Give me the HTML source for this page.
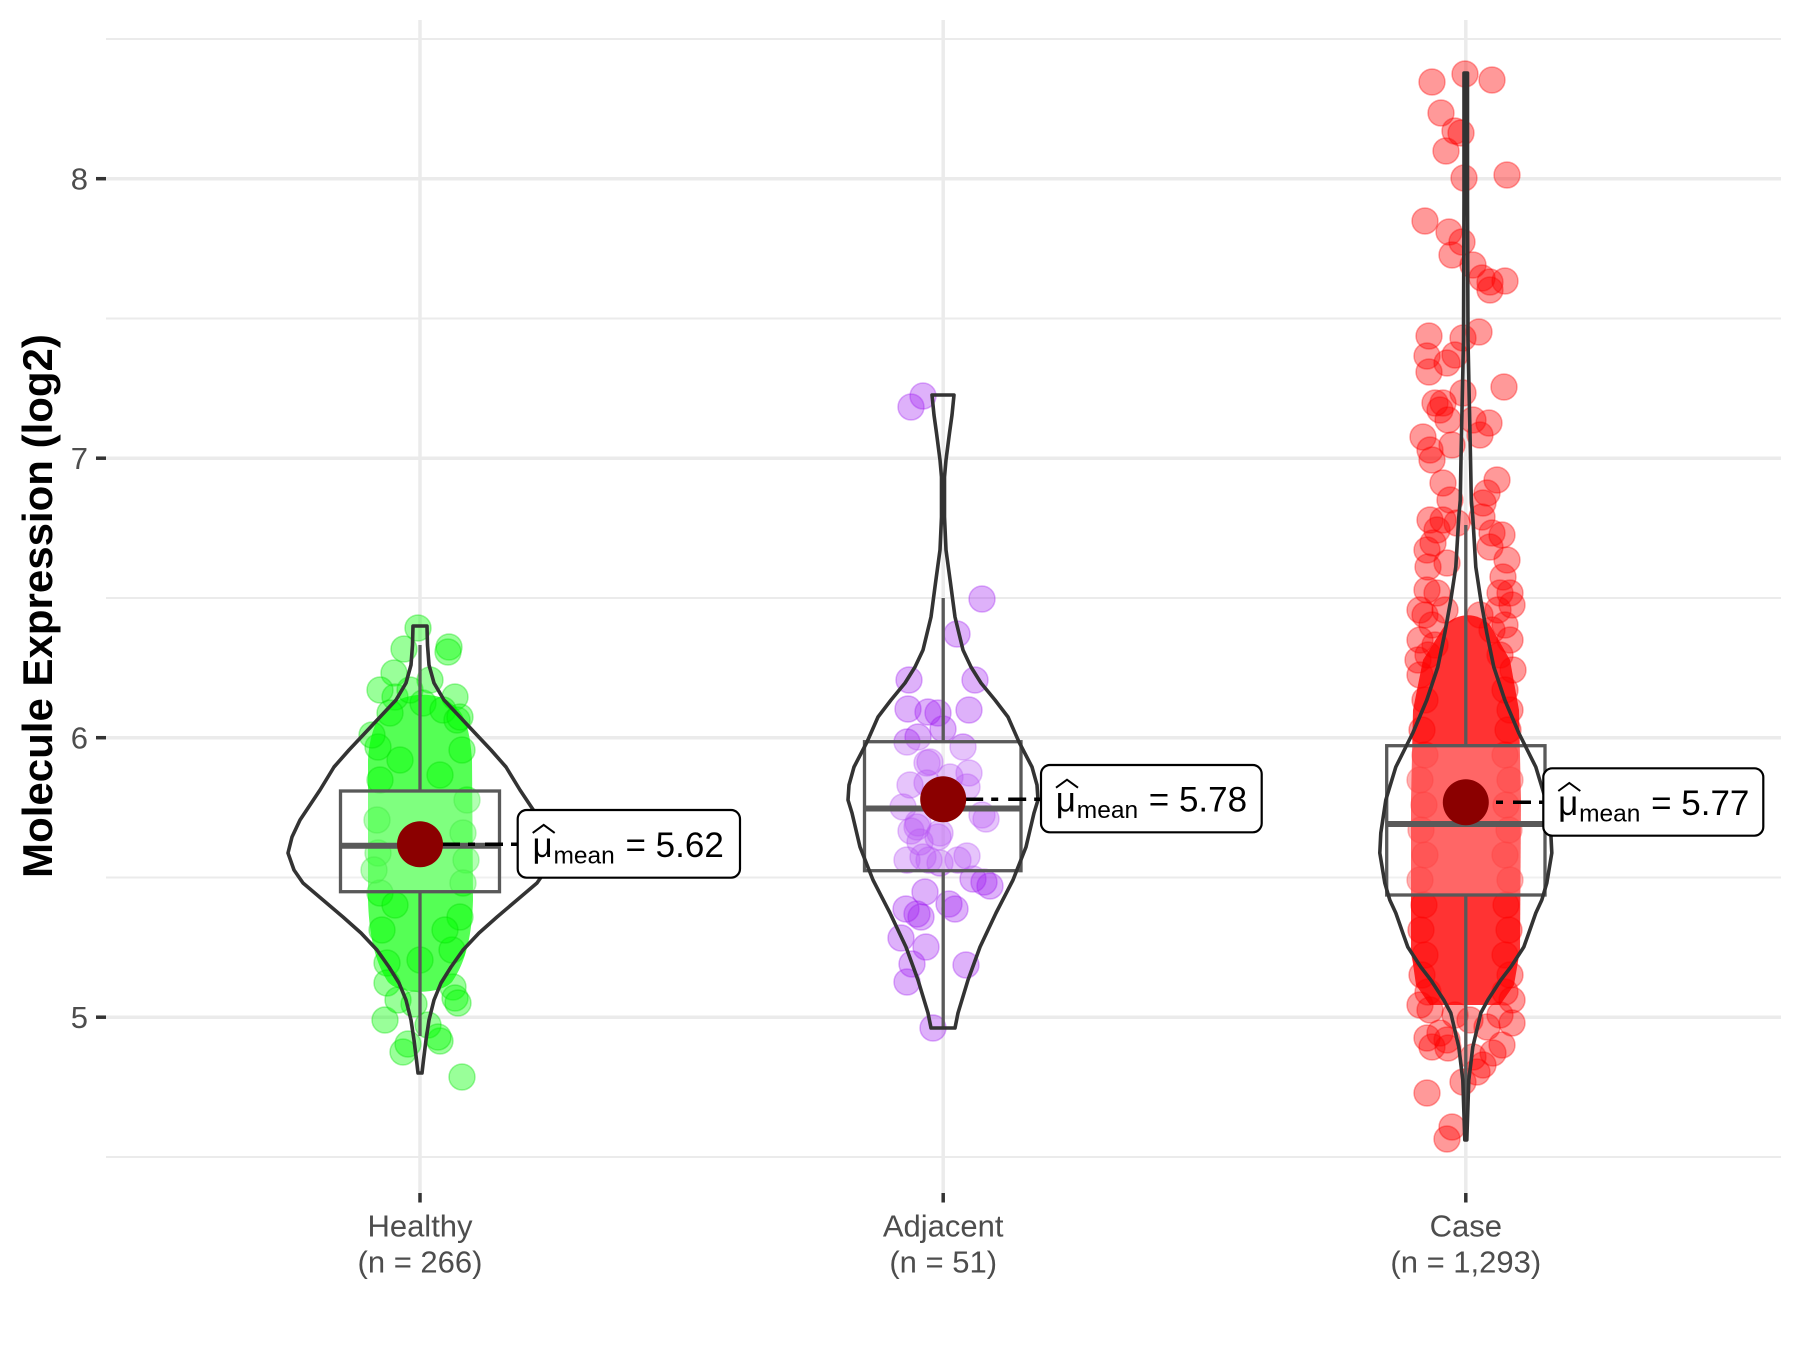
<!DOCTYPE html>
<html>
<head>
<meta charset="utf-8">
<style>
  html, body { margin: 0; padding: 0; background: #ffffff; }
  svg { display: block; }
</style>
</head>
<body>
<svg width="1800" height="1350" viewBox="0 0 1800 1350" xmlns="http://www.w3.org/2000/svg" font-family="'Liberation Sans', Arial, sans-serif">
  <rect x="0" y="0" width="1800" height="1350" fill="#ffffff"/>

  <g stroke="#EBEBEB" stroke-width="2">
    <line x1="106" y1="39" x2="1781" y2="39"/>
    <line x1="106" y1="318.5" x2="1781" y2="318.5"/>
    <line x1="106" y1="598" x2="1781" y2="598"/>
    <line x1="106" y1="877.5" x2="1781" y2="877.5"/>
    <line x1="106" y1="1157" x2="1781" y2="1157"/>
  </g>
  <g stroke="#EBEBEB" stroke-width="3.5">
    <line x1="106" y1="178.7" x2="1781" y2="178.7"/>
    <line x1="106" y1="458.2" x2="1781" y2="458.2"/>
    <line x1="106" y1="737.7" x2="1781" y2="737.7"/>
    <line x1="106" y1="1017.2" x2="1781" y2="1017.2"/>
    <line x1="420" y1="20" x2="420" y2="1193"/>
    <line x1="943.2" y1="20" x2="943.2" y2="1193"/>
    <line x1="1465.8" y1="20" x2="1465.8" y2="1193"/>
  </g>

  <g stroke="#333333" stroke-width="3.5">
    <line x1="96" y1="178.7" x2="106" y2="178.7"/>
    <line x1="96" y1="458.2" x2="106" y2="458.2"/>
    <line x1="96" y1="737.7" x2="106" y2="737.7"/>
    <line x1="96" y1="1017.2" x2="106" y2="1017.2"/>
    <line x1="420" y1="1193" x2="420" y2="1202.5"/>
    <line x1="943.2" y1="1193" x2="943.2" y2="1202.5"/>
    <line x1="1465.8" y1="1193" x2="1465.8" y2="1202.5"/>
  </g>

  <g font-size="31" fill="#4D4D4D" text-anchor="end">
    <text x="88" y="189.7">8</text>
    <text x="88" y="469.2">7</text>
    <text x="88" y="748.7">6</text>
    <text x="88" y="1028.2">5</text>
  </g>

  <text transform="translate(52,606) rotate(-90)" text-anchor="middle" font-size="42" font-weight="bold" fill="#000000">Molecule Expression (log2)</text>

  <g font-size="31" fill="#4D4D4D" text-anchor="middle">
    <text x="420" y="1236.5">Healthy</text>
    <text x="420" y="1272.5">(n = 266)</text>
    <text x="943.2" y="1236.5">Adjacent</text>
    <text x="943.2" y="1272.5">(n = 51)</text>
    <text x="1465.8" y="1236.5">Case</text>
    <text x="1465.8" y="1272.5">(n = 1,293)</text>
  </g>

  <!-- HEALTHY POINTS -->
  <path d="M395,702 C410,692 440,692 452,704 C465,712 470,730 472,760 L473,900 C472,935 466,962 452,982 C440,995 400,995 388,982 C375,962 369,935 368,900 L368,760 C370,730 378,712 395,702 Z" fill="#55FF55"/>
  <g fill="#00FF00" fill-opacity="0.4" stroke="#00DD00" stroke-opacity="0.35" stroke-width="1.5">
    <circle cx="418" cy="628" r="13"/><circle cx="404" cy="649" r="13"/><circle cx="449" cy="647" r="13"/>
    <circle cx="448" cy="652" r="13"/><circle cx="394" cy="673" r="13"/><circle cx="395" cy="697" r="13"/>
    <circle cx="455" cy="697" r="13"/><circle cx="423" cy="703" r="13"/><circle cx="390" cy="713" r="13"/>
    <circle cx="443" cy="710" r="13"/><circle cx="457" cy="720" r="13"/><circle cx="380" cy="690" r="13"/>
    <circle cx="430" cy="680" r="13"/><circle cx="410" cy="690" r="13"/>
    <circle cx="460" cy="717" r="13"/><circle cx="462" cy="750" r="13"/><circle cx="467" cy="800" r="13"/>
    <circle cx="463" cy="833" r="13"/><circle cx="466" cy="860" r="13"/><circle cx="463" cy="883" r="13"/>
    <circle cx="460" cy="917" r="13"/><circle cx="452" cy="950" r="13"/><circle cx="453" cy="987" r="13"/>
    <circle cx="455" cy="998" r="13"/>
    <circle cx="378" cy="747" r="13"/><circle cx="380" cy="780" r="13"/><circle cx="377" cy="820" r="13"/>
    <circle cx="378" cy="853" r="13"/><circle cx="380" cy="893" r="13"/><circle cx="382" cy="930" r="13"/>
    <circle cx="387" cy="963" r="13"/><circle cx="387" cy="983" r="13"/><circle cx="372" cy="735" r="13"/>
    <circle cx="374" cy="870" r="13"/>
    <circle cx="385" cy="1020" r="13"/><circle cx="403" cy="1052" r="13"/><circle cx="408" cy="1044" r="13"/>
    <circle cx="440" cy="1041" r="13"/><circle cx="462" cy="1077" r="13"/><circle cx="458" cy="1003" r="13"/>
    <circle cx="428" cy="1025" r="13"/><circle cx="414" cy="1004" r="13"/><circle cx="438" cy="1037" r="13"/>
    <circle cx="398" cy="1000" r="13"/>
    <circle cx="400" cy="760" r="13"/><circle cx="440" cy="775" r="13"/><circle cx="395" cy="905" r="13"/>
    <circle cx="445" cy="930" r="13"/><circle cx="420" cy="960" r="13"/>
  </g>

  <!-- ADJACENT POINTS -->
  <g fill="#A020F0" fill-opacity="0.35" stroke="#A020F0" stroke-opacity="0.35" stroke-width="1.5">
    <circle cx="911" cy="407" r="13"/><circle cx="923" cy="396" r="13"/><circle cx="982" cy="599" r="13"/>
    <circle cx="957" cy="634" r="13"/><circle cx="909" cy="680" r="13"/><circle cx="975" cy="680" r="13"/>
    <circle cx="908" cy="709" r="13"/><circle cx="928" cy="712" r="13"/><circle cx="969" cy="710" r="13"/>
    <circle cx="943" cy="729" r="13"/><circle cx="918" cy="737" r="13"/><circle cx="907" cy="742" r="13"/>
    <circle cx="963" cy="747" r="13"/><circle cx="927" cy="763" r="13"/><circle cx="950" cy="777" r="13"/>
    <circle cx="910" cy="785" r="13"/><circle cx="967" cy="787" r="13"/><circle cx="927" cy="783" r="13"/>
    <circle cx="903" cy="807" r="13"/><circle cx="982" cy="815" r="13"/><circle cx="918" cy="823" r="13"/>
    <circle cx="940" cy="833" r="13"/><circle cx="920" cy="842" r="13"/><circle cx="917" cy="827" r="13"/>
    <circle cx="938" cy="837" r="13"/><circle cx="907" cy="860" r="13"/><circle cx="923" cy="857" r="13"/>
    <circle cx="940" cy="863" r="13"/><circle cx="967" cy="856" r="13"/><circle cx="973" cy="879" r="13"/>
    <circle cx="984" cy="882" r="13"/><circle cx="925" cy="892" r="13"/><circle cx="949" cy="904" r="13"/>
    <circle cx="906" cy="909" r="13"/><circle cx="917" cy="914" r="13"/><circle cx="901" cy="938" r="13"/>
    <circle cx="926" cy="947" r="13"/><circle cx="912" cy="964" r="13"/><circle cx="966" cy="965" r="13"/>
    <circle cx="907" cy="982" r="13"/><circle cx="933" cy="1028" r="13"/><circle cx="938" cy="713" r="13"/>
    <circle cx="930" cy="762" r="13"/><circle cx="969" cy="773" r="13"/><circle cx="986" cy="819" r="13"/>
    <circle cx="911" cy="831" r="13"/><circle cx="929" cy="860" r="13"/><circle cx="958" cy="860" r="13"/>
    <circle cx="990" cy="886" r="13"/><circle cx="955" cy="909" r="13"/><circle cx="921" cy="917" r="13"/>
  </g>

  <!-- CASE POINTS -->
  <path d="M1445,625 C1458,612 1478,612 1490,625 L1510,660 L1519,710 L1521,800 L1520,950 L1514,985 L1500,1005 L1430,1005 L1416,985 L1411,950 L1411,800 L1413,710 L1423,660 Z" fill="#FF3333"/>
  <g fill="#FF0000" fill-opacity="0.4" stroke="#FF0000" stroke-opacity="0.35" stroke-width="1.5">
    <circle cx="1432" cy="82" r="13"/><circle cx="1465" cy="74" r="13"/><circle cx="1492" cy="80" r="13"/>
    <circle cx="1441" cy="113" r="13"/><circle cx="1455" cy="131" r="13"/><circle cx="1461" cy="133" r="13"/>
    <circle cx="1446" cy="151" r="13"/><circle cx="1464" cy="178" r="13"/><circle cx="1507" cy="175" r="13"/>
    <circle cx="1425" cy="221" r="13"/><circle cx="1449" cy="232" r="13"/><circle cx="1462" cy="242" r="13"/>
    <circle cx="1452" cy="255" r="13"/><circle cx="1473" cy="265" r="13"/><circle cx="1482" cy="278" r="13"/>
    <circle cx="1490" cy="282" r="13"/><circle cx="1505" cy="281" r="13"/><circle cx="1490" cy="290" r="13"/>
    <circle cx="1429" cy="336" r="13"/><circle cx="1427" cy="356" r="13"/><circle cx="1429" cy="372" r="13"/>
    <circle cx="1447" cy="363" r="13"/><circle cx="1455" cy="355" r="13"/><circle cx="1463" cy="338" r="13"/>
    <circle cx="1479" cy="332" r="13"/><circle cx="1504" cy="387" r="13"/><circle cx="1435" cy="403" r="13"/>
    <circle cx="1443" cy="403" r="13"/><circle cx="1463" cy="393" r="13"/><circle cx="1440" cy="410" r="13"/>
    <circle cx="1448" cy="420" r="13"/><circle cx="1473" cy="420" r="13"/><circle cx="1489" cy="423" r="13"/>
    <circle cx="1480" cy="435" r="13"/><circle cx="1423" cy="437" r="13"/><circle cx="1430" cy="450" r="13"/>
    <circle cx="1432" cy="460" r="13"/><circle cx="1452" cy="445" r="13"/><circle cx="1443" cy="483" r="13"/>
    <circle cx="1497" cy="480" r="13"/><circle cx="1430" cy="520" r="13"/><circle cx="1437" cy="530" r="13"/>
    <circle cx="1487" cy="493" r="13"/><circle cx="1483" cy="503" r="13"/><circle cx="1457" cy="523" r="13"/>
    <circle cx="1482" cy="517" r="13"/><circle cx="1492" cy="533" r="13"/><circle cx="1502" cy="535" r="13"/>
    <circle cx="1427" cy="550" r="13"/><circle cx="1443" cy="520" r="13"/><circle cx="1450" cy="500" r="13"/>
    <circle cx="1433" cy="543" r="13"/><circle cx="1490" cy="547" r="13"/><circle cx="1428" cy="567" r="13"/>
    <circle cx="1447" cy="563" r="13"/><circle cx="1507" cy="560" r="13"/><circle cx="1503" cy="577" r="13"/>
    <circle cx="1427" cy="590" r="13"/><circle cx="1420" cy="610" r="13"/><circle cx="1437" cy="593" r="13"/>
    <circle cx="1500" cy="593" r="13"/><circle cx="1510" cy="593" r="13"/><circle cx="1425" cy="615" r="13"/>
    <circle cx="1432" cy="625" r="13"/><circle cx="1420" cy="640" r="13"/><circle cx="1428" cy="655" r="13"/>
    <circle cx="1435" cy="645" r="13"/><circle cx="1498" cy="610" r="13"/><circle cx="1505" cy="625" r="13"/>
    <circle cx="1510" cy="640" r="13"/><circle cx="1500" cy="655" r="13"/><circle cx="1492" cy="630" r="13"/>
    <circle cx="1512" cy="605" r="13"/><circle cx="1420" cy="675" r="13"/><circle cx="1505" cy="690" r="13"/>
    <circle cx="1425" cy="700" r="13"/><circle cx="1510" cy="710" r="13"/><circle cx="1418" cy="660" r="13"/>
    <circle cx="1513" cy="670" r="13"/><circle cx="1445" cy="610" r="13"/><circle cx="1480" cy="615" r="13"/>
    <circle cx="1422" cy="730" r="13"/><circle cx="1425" cy="755" r="13"/><circle cx="1420" cy="780" r="13"/>
    <circle cx="1424" cy="805" r="13"/><circle cx="1421" cy="830" r="13"/><circle cx="1425" cy="855" r="13"/>
    <circle cx="1420" cy="880" r="13"/><circle cx="1424" cy="905" r="13"/><circle cx="1421" cy="930" r="13"/>
    <circle cx="1425" cy="955" r="13"/><circle cx="1422" cy="975" r="13"/><circle cx="1428" cy="992" r="13"/>
    <circle cx="1508" cy="730" r="13"/><circle cx="1505" cy="755" r="13"/><circle cx="1510" cy="780" r="13"/>
    <circle cx="1506" cy="805" r="13"/><circle cx="1509" cy="830" r="13"/><circle cx="1505" cy="855" r="13"/>
    <circle cx="1510" cy="880" r="13"/><circle cx="1506" cy="905" r="13"/><circle cx="1509" cy="930" r="13"/>
    <circle cx="1505" cy="955" r="13"/><circle cx="1510" cy="975" r="13"/><circle cx="1505" cy="992" r="13"/>
    <circle cx="1427" cy="1038" r="13"/><circle cx="1432" cy="1047" r="13"/><circle cx="1440" cy="1033" r="13"/>
    <circle cx="1447" cy="1040" r="13"/><circle cx="1470" cy="1020" r="13"/><circle cx="1487" cy="1027" r="13"/>
    <circle cx="1502" cy="1045" r="13"/><circle cx="1493" cy="1053" r="13"/><circle cx="1483" cy="1065" r="13"/>
    <circle cx="1477" cy="1072" r="13"/><circle cx="1463" cy="1082" r="13"/><circle cx="1427" cy="1093" r="13"/>
    <circle cx="1452" cy="1127" r="13"/><circle cx="1447" cy="1139" r="13"/><circle cx="1512" cy="1000" r="13"/>
    <circle cx="1512" cy="1023" r="13"/><circle cx="1430" cy="1010" r="13"/><circle cx="1448" cy="1048" r="13"/>
    <circle cx="1473" cy="1057" r="13"/><circle cx="1455" cy="1015" r="13"/><circle cx="1500" cy="1015" r="13"/>
    <circle cx="1420" cy="1005" r="13"/>
  </g>

  <!-- BOXPLOTS -->
  <g stroke="#595959" stroke-width="3.3" fill="none">
    <line x1="420" y1="645" x2="420" y2="791"/>
    <line x1="420" y1="891.7" x2="420" y2="1036"/>
    <rect x="340.5" y="791" width="159" height="100.7" fill="#ffffff" fill-opacity="0.25"/>
    <line x1="340.5" y1="845.7" x2="499.5" y2="845.7" stroke-width="6"/>
    <line x1="943.2" y1="598" x2="943.2" y2="741.7"/>
    <line x1="943.2" y1="870.7" x2="943.2" y2="1028"/>
    <rect x="864.5" y="741.7" width="156.5" height="129" fill="#ffffff" fill-opacity="0.25"/>
    <line x1="864.5" y1="808.5" x2="1021" y2="808.5" stroke-width="6"/>
    <line x1="1465.8" y1="525" x2="1465.8" y2="745.7"/>
    <line x1="1465.8" y1="895" x2="1465.8" y2="1119"/>
    <rect x="1386.7" y="745.7" width="158.3" height="149.3" fill="#ffffff" fill-opacity="0.25"/>
    <line x1="1386.7" y1="824" x2="1545" y2="824" stroke-width="6"/>
  </g>

  <!-- VIOLINS -->
  <g stroke="#333333" stroke-width="3.6" fill="none" stroke-linejoin="round">
    <path d="M413,626 L427,626 L427.5,645 L429,665 L434,683 L444,700 L460,717 L475,733 L491,750 L506,767 L520,790 L530,805 L540,820 L548,837 L552,853 L546,870 L537,883 L517,900 L497,917 L479,933 L463,950 L451,967 L441,983 L434,1000 L429,1020 L426,1040 L423.5,1060 L422,1073 L418,1073 L416.5,1060 L414,1040 L411,1020 L406,1000 L399,983 L389,967 L377,950 L361,933 L343,917 L323,900 L303,883 L294,870 L288,853 L292,837 L300,820 L310,805 L320,790 L334,767 L349,750 L365,733 L380,717 L396,700 L406,683 L411,665 L412.5,645 Z"/>
    <path d="M932,395 L954,395 L952,415 L949.5,433 L946,460 L944.5,477 L944.5,517 L946,550 L950.5,583 L955,617 L963,650 L971,667 L981,683 L995,700 L1008,717 L1019,742 L1032,767 L1037,785 L1038,800 L1034,813 L1030,830 L1026,847 L1013,880 L996,913 L980,947 L968,980 L958,1013 L955,1028 L931,1028 L928,1013 L918,980 L906,947 L890,913 L873,880 L860,847 L856,830 L852,813 L848,800 L849,785 L854,767 L867,742 L878,717 L891,700 L905,683 L915,667 L923,650 L931,617 L935.5,583 L940,550 L941.5,517 L941.5,477 L940,460 L936.5,433 L934,415 Z"/>
    <path d="M1464,73 L1467.5,73 L1467.5,200 L1468,340 L1470.5,458 L1471.3,500 L1472.8,517 L1475.8,567 L1480.8,600 L1486.8,633 L1493.8,667 L1504.8,700 L1518.8,733 L1535.8,767 L1545.8,800 L1550.8,833 L1551.8,853 L1546.8,883 L1541.8,900 L1535.8,913 L1528.8,933 L1523.8,947 L1510.8,967 L1500.8,980 L1487.8,1000 L1480.8,1013 L1472.8,1047 L1468.8,1080 L1466.8,1140 L1464.8,1140 L1462.8,1080 L1458.8,1047 L1450.8,1013 L1443.8,1000 L1430.8,980 L1420.8,967 L1407.8,947 L1402.8,933 L1395.8,913 L1389.8,900 L1384.8,883 L1379.8,853 L1380.8,833 L1385.8,800 L1395.8,767 L1412.8,733 L1426.8,700 L1437.8,667 L1444.8,633 L1450.8,600 L1455.8,567 L1458.8,517 L1460.3,500 L1461,458 L1463.5,340 L1464,200 Z"/>
  </g>

  <!-- MEAN LINES -->
  <g stroke="#000000" stroke-width="3.5" stroke-dasharray="7 10 18 8" fill="none">
    <line x1="425" y1="844.3" x2="517.7" y2="844.3"/>
    <line x1="948.2" y1="799.2" x2="1041" y2="799.2"/>
    <line x1="1470" y1="802.3" x2="1543.3" y2="802.3" stroke-dashoffset="17"/>
  </g>

  <g fill="#8B0000">
    <circle cx="420" cy="844.3" r="23"/>
    <circle cx="943.2" cy="799.2" r="23"/>
    <circle cx="1465.8" cy="802.3" r="23"/>
  </g>

  <!-- LABELS -->
  <rect x="517.7" y="810" width="222.3" height="67.7" rx="9" ry="9" fill="#ffffff" stroke="#000000" stroke-width="2.2"/>
  <polyline points="532.7,832.9 543.7,824.9 554.7,832.9" fill="none" stroke="#000000" stroke-width="2"/>
  <text x="532.5" y="856.9" font-size="35" fill="#000000">μ</text>
  <text x="553.5" y="863.4" font-size="24.5" fill="#000000">mean</text>
  <text x="625.5" y="856.9" font-size="35" fill="#000000">= 5.62</text>

  <rect x="1041" y="765" width="220.7" height="67.3" rx="9" ry="9" fill="#ffffff" stroke="#000000" stroke-width="2.2"/>
  <polyline points="1056,787.7 1067,779.7 1078,787.7" fill="none" stroke="#000000" stroke-width="2"/>
  <text x="1055.8" y="811.7" font-size="35" fill="#000000">μ</text>
  <text x="1076.8" y="818.2" font-size="24.5" fill="#000000">mean</text>
  <text x="1148.8" y="811.7" font-size="35" fill="#000000">= 5.78</text>

  <rect x="1543.3" y="768.3" width="220" height="67.4" rx="9" ry="9" fill="#ffffff" stroke="#000000" stroke-width="2.2"/>
  <polyline points="1558.3,791 1569.3,783 1580.3,791" fill="none" stroke="#000000" stroke-width="2"/>
  <text x="1558.1" y="815" font-size="35" fill="#000000">μ</text>
  <text x="1579.1" y="821.5" font-size="24.5" fill="#000000">mean</text>
  <text x="1651.1" y="815" font-size="35" fill="#000000">= 5.77</text>
</svg>
</body>
</html>
